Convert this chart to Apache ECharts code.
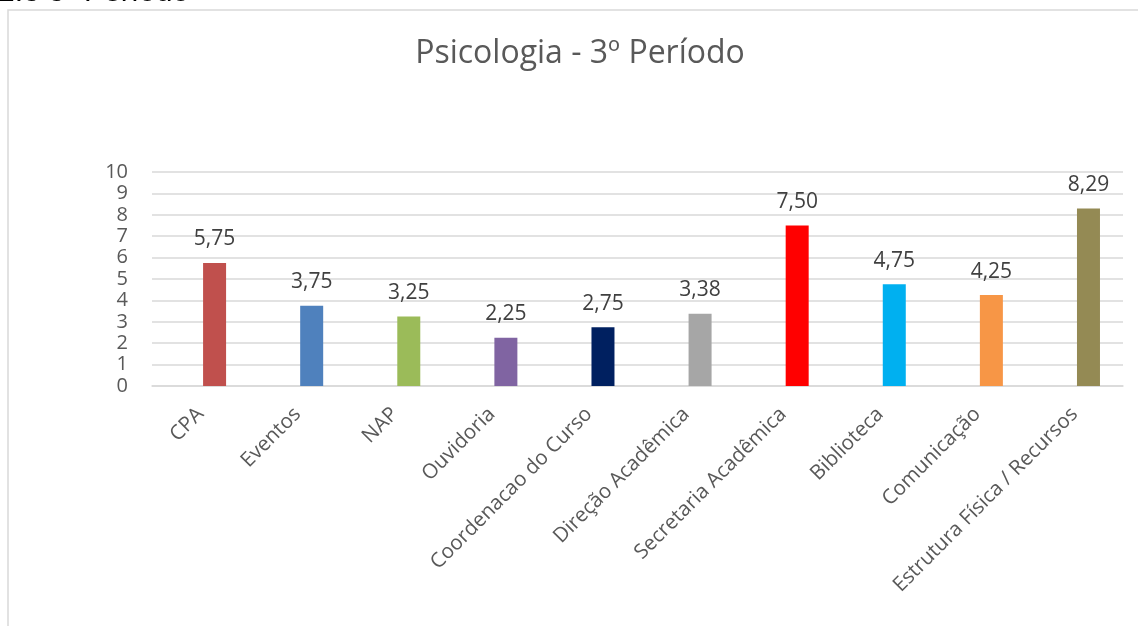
<!DOCTYPE html>
<html>
<head>
<meta charset="utf-8">
<title>Psicologia - 3º Período</title>
<script src="https://cdn.jsdelivr.net/npm/echarts@6/dist/echarts.min.js"></script>
<style>
  html, body { margin: 0; padding: 0; background: #fff; }
  #chart { width: 1138px; height: 626px; }
</style>
</head>
<body>
<div id="chart"></div>
<script>
// dados do gráfico
var setores = ['CPA', 'Eventos', 'NAP', 'Ouvidoria', 'Coordenacao do Curso', 'Direção Acadêmica',
    'Secretaria Acadêmica', 'Biblioteca', 'Comunicação', 'Estrutura Física / Recursos'];
var notas = [5.75, 3.75, 3.25, 2.25, 2.75, 3.38, 7.50, 4.75, 4.25, 8.29];
var cores = ['#C0504D', '#4F81BD', '#9BBB59', '#8064A2', '#002060', '#A6A6A6',
    '#FF0000', '#00B0F0', '#F79646', '#948A54'];
// série vazia do Excel (empurra a barra para a direita da categoria)
var serieVazia = [null, null, null, null, null, null, null, null, null, null];
var ticksY = [0, 1, 2, 3, 4, 5, 6, 7, 8, 9, 10];

var myChart = echarts.init(document.getElementById('chart'));

var option = {
    backgroundColor: '#fff',
    animation: false,
    title: {
        text: 'Psicologia - 3º Período',
        left: 575,
        top: 33,
        textAlign: 'center',
        textStyle: {
            fontFamily: 'Open Sans',
            fontSize: 32,
            fontWeight: 'normal',
            color: '#595959'
        }
    },
    graphic: [{
        type: 'rect',
        shape: { x: 8, y: 10, width: 1200, height: 700 },
        style: { fill: 'none', stroke: '#d9d9d9', lineWidth: 1.5 },
        silent: true
    }, {
        type: 'text',
        left: -2,
        top: -22,
        style: {
            text: '2.3 3º Período',
            fontFamily: 'Liberation Sans',
            fontSize: 30,
            fill: '#000'
        },
        silent: true
    }],
    grid: {
        left: 152,
        right: 15,
        top: 172,
        bottom: 240
    },
    xAxis: {
        type: 'category',
        data: setores,
        axisTick: { show: false },
        axisLine: { lineStyle: { color: '#d9d9d9', width: 1.5 } },
        axisLabel: {
            interval: 0, // mostra todos os rótulos
            rotate: 45,
            margin: 25,
            fontFamily: 'Open Sans',
            fontSize: 20.5,
            color: '#595959'
        }
    },
    yAxis: {
        type: 'value',
        min: ticksY[0],
        max: ticksY[ticksY.length - 1],
        interval: 1,
        axisLine: { show: false },
        axisTick: { show: false },
        splitLine: { lineStyle: { color: '#d9d9d9', width: 1.5 } },
        axisLabel: {
            margin: 24,
            fontFamily: 'Open Sans',
            fontSize: 20,
            color: '#595959'
        }
    },
    series: [{
        name: 'vazia',
        type: 'bar',
        barWidth: 23,
        barGap: '22%',
        data: serieVazia
    }, {
        name: 'Psicologia',
        type: 'bar',
        barWidth: 23,
        data: notas.map(function (v, i) {
            return { value: v, itemStyle: { color: cores[i] } };
        }),
        label: {
            show: true,
            position: 'top',
            distance: 13,
            fontFamily: 'Open Sans',
            fontSize: 21,
            color: '#404040',
            formatter: function (p) {
                return p.value.toFixed(2).replace('.', ',');
            }
        }
    }]
};

myChart.setOption(option);
</script>
</body>
</html>
